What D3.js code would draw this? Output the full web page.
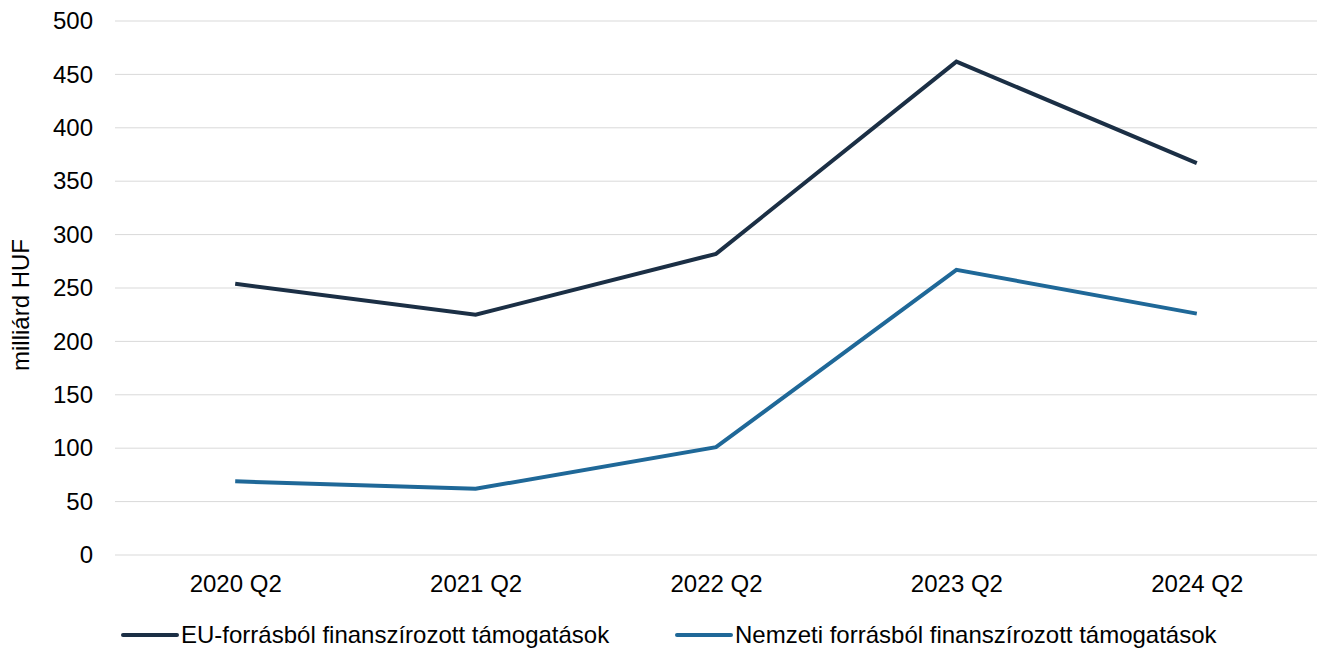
<!DOCTYPE html>
<html>
<head>
<meta charset="utf-8">
<script src="https://cdn.jsdelivr.net/npm/d3@7"></script>
<style>
  body { margin: 0; background: #fff; }
  text { font-family: "Liberation Sans", Arial, sans-serif; fill: #000; }
</style>
</head>
<body>
<div id="chart"></div>
<script>
// data
const periods = ["2020 Q2", "2021 Q2", "2022 Q2", "2023 Q2", "2024 Q2"];
const euValues = [254, 225, 282, 462, 367];
const nationalValues = [69, 62, 101, 267, 226];
const seriesNames = ["EU-forrásból finanszírozott támogatások", "Nemzeti forrásból finanszírozott támogatások"];
const seriesColors = ["#1b2f45", "#1f6898"];
const yTicks = [0, 50, 100, 150, 200, 250, 300, 350, 400, 450, 500];

var W = 1318, H = 648;
var margin = { top: 21, right: 1, bottom: 93, left: 115 },
    width = W - margin.left - margin.right,
    height = H - margin.top - margin.bottom;

var fontSize = "24px";

var svg = d3.select("#chart").append("svg")
    .attr("width", W)
    .attr("height", H);

var g = svg.append("g")
    .attr("transform", "translate(" + margin.left + "," + margin.top + ")");

var x = d3.scalePoint()
    .domain(periods)
    .range([0, width])
    .padding(0.5);

var y = d3.scaleLinear()
    .domain([0, 500])
    .range([height, 0]);

// gridlines
g.selectAll(".grid")
    .data(yTicks)
    .enter()
    .append("line")
    .attr("x1", 0)
    .attr("x2", width)
    .attr("y1", d => y(d))
    .attr("y2", d => y(d))
    .attr("stroke", "#d9d9d9")
    .attr("stroke-width", 1);

// y axis labels
var yAxis = g.append("g")
    .call(d3.axisLeft(y).tickValues(yTicks).tickSize(0).tickPadding(22));
yAxis.select(".domain").remove();
yAxis.selectAll("text").style("font-size", fontSize).attr("fill", "#000");

// x axis labels
var xAxis = g.append("g")
    .attr("transform", "translate(0," + height + ")")
    .call(d3.axisBottom(x).tickSize(0).tickPadding(20));
xAxis.select(".domain").remove();
xAxis.selectAll("text").style("font-size", fontSize).attr("fill", "#000");

// y title
svg.append("text")
    .attr("transform", "translate(29,305) rotate(-90)")
    .attr("text-anchor", "middle")
    .style("font-size", fontSize)
    .text("milliárd HUF");

// lines
var line = d3.line()
    .x((d, i) => x(periods[i]))
    .y(d => y(d));

[euValues, nationalValues].forEach((vals, k) => {
    g.append("path")
        .datum(vals)
        .attr("fill", "none")
        .attr("stroke", seriesColors[k])
        .attr("stroke-width", 4)
        .attr("stroke-linejoin", "miter")
        .attr("d", line);
});

// legend
var legendX = [123, 677];
seriesNames.forEach((name, k) => {
    var lg = svg.append("g").attr("transform", "translate(" + legendX[k] + ",635)");
    lg.append("line")
        .attr("x1", 0).attr("x2", 54)
        .attr("stroke", seriesColors[k])
        .attr("stroke-width", 4)
        .attr("stroke-linecap", "round");
    lg.append("text")
        .attr("x", 58)
        .attr("dy", "0.35em")
        .style("font-size", fontSize)
        .text(name);
});
</script>
</body>
</html>
